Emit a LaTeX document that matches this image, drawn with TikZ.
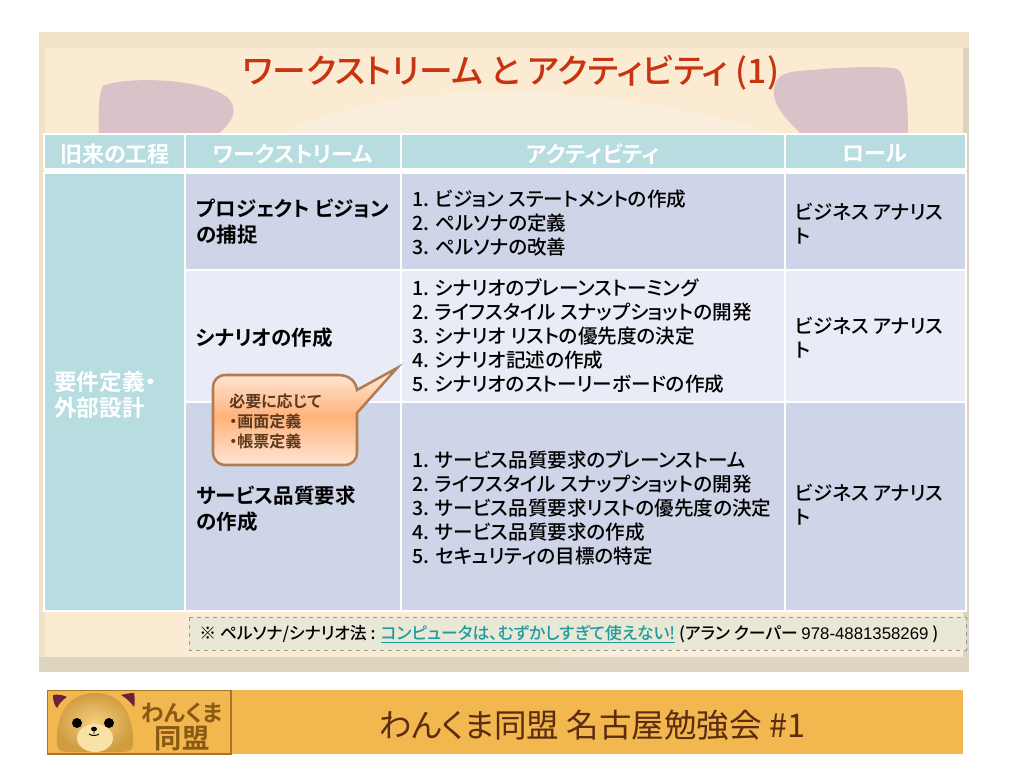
\documentclass[tikz,border=0pt]{standalone}
\usepackage{fontspec}
\setmainfont[RawFeature={+palt},UprightFont={* Medium},BoldFont={* Bold}]{Noto Sans CJK JP}
\newfontfamily\jpreg[RawFeature={+palt}]{Noto Sans CJK JP}
\newfontfamily\lib{Liberation Sans}
\definecolor{framecol}{HTML}{F0E2C6}
\definecolor{framebot}{HTML}{DED5C1}
\definecolor{frameright}{HTML}{DCD4C0}
\definecolor{paper}{HTML}{FBEBD2}
\definecolor{paperlight}{HTML}{F9EEDB}
\definecolor{blob}{HTML}{D9C3C9}
\definecolor{teal}{HTML}{B7DDE0}
\definecolor{rowdark}{HTML}{CFD5E8}
\definecolor{rowlight}{HTML}{E9ECF6}
\definecolor{titlecol}{HTML}{C8340F}
\definecolor{notefill}{HTML}{E9E7D6}
\definecolor{linkcol}{HTML}{1F9C9C}
\definecolor{barcol}{HTML}{F2B74E}
\definecolor{barborder}{HTML}{A87428}
\definecolor{bartext}{HTML}{5B2C10}
\definecolor{logotext}{HTML}{8A5A14}
\definecolor{ear}{HTML}{6E1F3C}
\definecolor{calloutline}{HTML}{B07C50}
\definecolor{callouttext}{HTML}{5C3A20}
\definecolor{calltop}{HTML}{FFEDE2}
\definecolor{callmid}{HTML}{FFB27A}
\definecolor{callbot}{HTML}{FFE6D4}
\definecolor{bearin}{HTML}{F6CF80}
\definecolor{bearout}{HTML}{CF9C40}
\definecolor{muzzle}{HTML}{F8E2A6}
\tikzset{
  px/.style={x=0.75pt,y=-0.75pt},
  cell/.style={draw=white,line width=1.5pt},
  headtext/.style={text=white,font=\bfseries\fontsize{16.5}{19}\selectfont,inner sep=0pt},
  streamtext/.style={anchor=west,align=left,text=black,inner sep=0pt,font=\bfseries\fontsize{15.4}{19.5}\selectfont},
  acttext/.style={anchor=west,align=left,text=black,inner sep=0pt,font=\fontsize{14.7}{18}\selectfont},
  roletext/.style={anchor=west,align=left,text=black,inner sep=0pt,font=\fontsize{14.7}{18}\selectfont},
}
\begin{document}
\begin{tikzpicture}[px]
\useasboundingbox (0,0) rectangle (1024,768);
\fill[white] (0,0) rectangle (1024,768);
% slide frame
\fill[framecol] (39,32) rectangle (969,672);
\fill[paper] (45,48) rectangle (963,657);
\fill[frameright] (963,48) rectangle (969,672);
\fill[framebot] (39,657) rectangle (969,672);
% faint swooshes
\fill[paperlight] (280,134) .. controls (380,85) and (560,70) .. (780,134) -- cycle;
\fill[paperlight] (560,657) .. controls (700,640) and (850,620) .. (963,611) -- (963,657) -- cycle;
% mauve blobs
\fill[blob] (99,134) .. controls (98,110) and (99,92) .. (103,86) .. controls (125,76) and (205,78) .. (228,98)
  .. controls (238,108) and (235,120) .. (218,134) -- cycle;
\fill[blob] (801,134) .. controls (785,118) and (772,105) .. (774,88) .. controls (776,76) and (785,72) .. (800,71)
  .. controls (830,68) and (880,65) .. (897,69) .. controls (907,72) and (908,110) .. (908,134) -- cycle;
% title
\node[text=titlecol,inner sep=0pt,font=\fontsize{25.3}{28}\selectfont] (title) at (511,73) {ワークストリーム と アクティビティ (1)};
% table
\fill[cell,fill=teal] (44,134) rectangle (185,169);
\fill[cell,fill=teal] (185,134) rectangle (401,169);
\fill[cell,fill=teal] (401,134) rectangle (785,169);
\fill[cell,fill=teal] (785,134) rectangle (966,169);
\fill[white] (44,169) rectangle (966,173);
\fill[cell,fill=teal] (44,173) rectangle (185,611);
\foreach \xa/\xb in {185/401,401/785,785/966}{
  \draw[cell,fill=rowdark] (\xa,173) rectangle (\xb,270);
  \draw[cell,fill=rowlight] (\xa,270) rectangle (\xb,402);
  \draw[cell,fill=rowdark] (\xa,402) rectangle (\xb,611);
}
\draw[cell] (44,134) rectangle (185,169);
\draw[cell] (185,134) rectangle (401,169);
\draw[cell] (401,134) rectangle (785,169);
\draw[cell] (785,134) rectangle (966,169);
\draw[cell] (44,173) rectangle (185,611);
% header text
\node[headtext] (h1) at (115,154) {旧来の工程};
\node[headtext] (h2) at (293,154) {ワークストリーム};
\node[headtext] (h3) at (593,154) {アクティビティ};
\node[headtext] (h4) at (875,154) {ロール};
% first column
\node[anchor=west,align=left,text=white,inner sep=0pt,font=\bfseries\fontsize{17}{19.5}\selectfont] (phase) at (54,395) {要件定義・\\外部設計};
% stream column
\node[streamtext] (s1) at (196,222) {プロジェクト ビジョン\\の捕捉};
\node[streamtext] (s2) at (196,338) {シナリオの作成};
\node[streamtext] (s3) at (196,509) {サービス品質要求\\の作成};
% activities
\node[acttext] (a1) at (412,223) {1. ビジョン ステートメントの作成\\2. ペルソナの定義\\3. ペルソナの改善};
\node[acttext] (a2) at (412,336) {1. シナリオのブレーンストーミング\\2. ライフスタイル スナップショットの開発\\3. シナリオ リストの優先度の決定\\4. シナリオ記述の作成\\5. シナリオのストーリーボードの作成};
\node[acttext] (a3) at (412,508) {1. サービス品質要求のブレーンストーム\\2. ライフスタイル スナップショットの開発\\3. サービス品質要求リストの優先度の決定\\4. サービス品質要求の作成\\5. セキュリティの目標の特定};
% roles
\node[roletext] (r1) at (795,224) {ビジネス アナリス\\ト};
\node[roletext] (r2) at (795,338) {ビジネス アナリス\\ト};
\node[roletext] (r3) at (795,505) {ビジネス アナリス\\ト};
% callout
\draw[calloutline,line width=1.9pt,top color=calltop,bottom color=callbot,middle color=callmid]
  (226,375) -- (338,375) .. controls (350,375) and (356,382) .. (357,390) -- (397,368) -- (357,413)
  -- (357,452) .. controls (357,460) and (352,465) .. (344,465) -- (226,465)
  .. controls (218,465) and (213,460) .. (213,452) -- (213,388) .. controls (213,380) and (218,375) .. (226,375) -- cycle;
\node[anchor=north west,align=left,text=callouttext,inner sep=0pt,font=\bfseries\fontsize{12}{15}\selectfont] (call) at (229,394) {必要に応じて\\・画面定義\\・帳票定義};
% note
\fill[notefill] (189,617) rectangle (966,650);
\draw[gray!80,dashed,line width=0.6pt] (189,617) rectangle (966,650);
\node[anchor=west,inner sep=0pt,text=black,font=\fontsize{12.6}{14}\selectfont] (note) at (199,634) {※ ペルソナ/シナリオ法 : {\color{linkcol}\underline{コンピュータは、むずかしすぎて使えない!}} (アラン クーパー {\lib 978-4881358269} )};
% footer
\fill[barcol] (47,690) rectangle (963,754);
\draw[barborder,line width=0.9pt,fill=barcol] (47.5,690.5) rectangle (231,754);
% bear
\fill[ear] (53,695) .. controls (58,694) and (63,695) .. (67,697) .. controls (62,700) and (59,704) .. (57,708) .. controls (54,705) and (53,700) .. (53,695) -- cycle;
\fill[ear] (121,695) .. controls (125,694) and (130,693) .. (134,693) .. controls (135,698) and (135,703) .. (134,707) .. controls (131,702) and (126,698) .. (121,695) -- cycle;
\shade[inner color=bearin,outer color=bearout]
  (57,745) .. controls (55,715) and (68,693) .. (95,693) .. controls (122,693) and (134,715) .. (133,745)
  .. controls (132,751) and (128,752) .. (120,752) -- (70,752) .. controls (62,752) and (58,751) .. (57,745) -- cycle;
\fill[muzzle] (95,738) ellipse [x radius=18, y radius=14];
\fill[black] (77,723) circle (5);
\fill[black] (109,723) circle (5);
\fill[black] (94,729) ellipse [x radius=3, y radius=2.3];
\draw[black,line width=0.7pt] (94,731) -- (94,734) (89,734) .. controls (91,736) and (97,736) .. (99,734);
\node[text=logotext,inner sep=0pt,font=\bfseries\fontsize{17}{20}\selectfont] (lg1) at (182,713) {わんくま};
\node[text=logotext,inner sep=0pt,font=\bfseries\fontsize{20.5}{22}\selectfont] (lg2) at (182,739) {同盟};
\node[text=bartext,inner sep=0pt,font=\jpreg\fontsize{24.4}{28}\selectfont] (foot) at (592,725) {わんくま同盟 名古屋勉強会 \#1};
\end{tikzpicture}
\end{document}
